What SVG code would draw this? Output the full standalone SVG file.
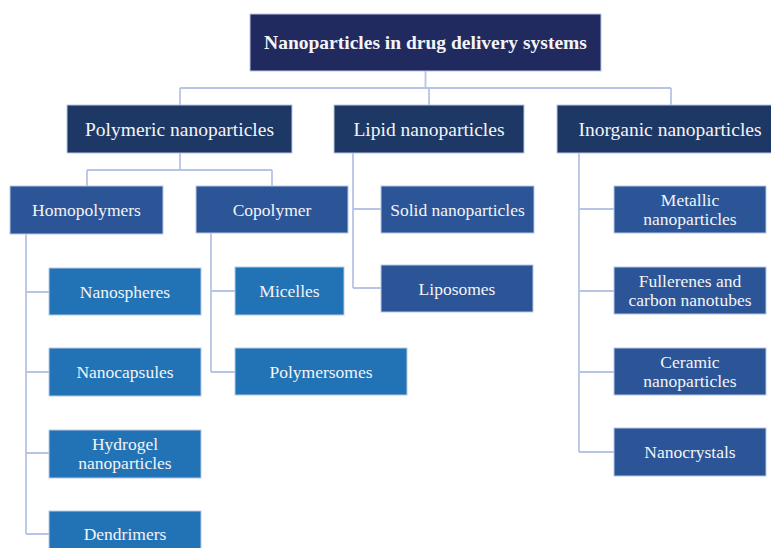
<svg xmlns="http://www.w3.org/2000/svg" width="771" height="548" viewBox="0 0 771 548">
  <style>
    .box { stroke: #b9c7e8; stroke-width: 1; }
    .root { fill: #212a5e; }
    .l1 { fill: #1e3865; }
    .l2 { fill: #2b5597; }
    .l3 { fill: #2273b5; }
    text { font-family: "Liberation Serif", "Times New Roman", serif; fill: #f4f4f6; text-anchor: middle; }
    .t0 { font-size: 19.5px; font-weight: bold; }
    .t1 { font-size: 19.5px; }
    .t2 { font-size: 17.5px; }
    .wire { fill: none; stroke: #b6c4e6; stroke-width: 1.8; }
  </style>
  <rect width="771" height="548" fill="#ffffff"/>

  <g id="connectors">
    <!-- root to categories -->
    <path class="wire" d="M425.5 71 V88 M180 88 H671 M180 88 V105 M429 88 V105 M671 88 V105"/>
    <!-- polymeric split -->
    <path class="wire" d="M180 153 V170 M87 170 H272 M87 170 V186 M272 170 V186"/>
    <!-- homopolymers list -->
    <path class="wire" d="M26 234 V534 M26 292 H49 M26 372 H49 M26 453 H49 M26 534 H49"/>
    <!-- copolymer list -->
    <path class="wire" d="M211 233 V372 M211 291 H235 M211 372 H235"/>
    <!-- lipid list -->
    <path class="wire" d="M353 153 V288 M353 209 H381 M353 288 H381"/>
    <!-- inorganic list -->
    <path class="wire" d="M579 153 V452 M579 209 H614 M579 291 H614 M579 372 H614 M579 452 H614"/>
  </g>

  <g id="root">
    <rect class="box root" x="250" y="14" width="351" height="57"/>
    <text class="t0" x="425.5" y="49">Nanoparticles in drug delivery systems</text>
  </g>

  <g id="polymeric">
    <rect class="box l1" x="67" y="105" width="225" height="48"/>
    <text class="t1" x="179.5" y="136">Polymeric nanoparticles</text>
  </g>
  <g id="lipid">
    <rect class="box l1" x="334" y="105" width="190" height="48"/>
    <text class="t1" x="429" y="136">Lipid nanoparticles</text>
  </g>
  <g id="inorganic">
    <rect class="box l1" x="557" y="105" width="226" height="48"/>
    <text class="t1" x="670" y="136">Inorganic nanoparticles</text>
  </g>

  <g id="homopolymers">
    <rect class="box l2" x="10" y="186" width="153" height="48"/>
    <text class="t2" x="86.5" y="216">Homopolymers</text>
  </g>
  <g id="copolymer">
    <rect class="box l2" x="196" y="186" width="152" height="47"/>
    <text class="t2" x="272" y="215.5">Copolymer</text>
  </g>

  <g id="nanospheres">
    <rect class="box l3" x="49" y="268" width="152" height="47"/>
    <text class="t2" x="125" y="297.5">Nanospheres</text>
  </g>
  <g id="nanocapsules">
    <rect class="box l3" x="49" y="348" width="152" height="48"/>
    <text class="t2" x="125" y="378">Nanocapsules</text>
  </g>
  <g id="hydrogel">
    <rect class="box l3" x="49" y="430" width="152" height="48"/>
    <text class="t2" x="125" y="450">Hydrogel</text>
    <text class="t2" x="125" y="469">nanoparticles</text>
  </g>
  <g id="dendrimers">
    <rect class="box l3" x="49" y="511" width="152" height="48"/>
    <text class="t2" x="125" y="540">Dendrimers</text>
  </g>

  <g id="micelles">
    <rect class="box l3" x="235" y="267" width="109" height="48"/>
    <text class="t2" x="289.5" y="297">Micelles</text>
  </g>
  <g id="polymersomes">
    <rect class="box l3" x="235" y="348" width="172" height="47"/>
    <text class="t2" x="321" y="377.5">Polymersomes</text>
  </g>

  <g id="solid">
    <rect class="box l2" x="381" y="186" width="153" height="47"/>
    <text class="t2" x="457.5" y="215.5">Solid nanoparticles</text>
  </g>
  <g id="liposomes">
    <rect class="box l2" x="381" y="265" width="152" height="47"/>
    <text class="t2" x="457" y="294.5">Liposomes</text>
  </g>

  <g id="metallic">
    <rect class="box l2" x="614" y="186" width="152" height="47"/>
    <text class="t2" x="690" y="206">Metallic</text>
    <text class="t2" x="690" y="225">nanoparticles</text>
  </g>
  <g id="fullerenes">
    <rect class="box l2" x="614" y="267" width="152" height="47"/>
    <text class="t2" x="690" y="287">Fullerenes and</text>
    <text class="t2" x="690" y="306">carbon nanotubes</text>
  </g>
  <g id="ceramic">
    <rect class="box l2" x="614" y="348" width="152" height="47"/>
    <text class="t2" x="690" y="368">Ceramic</text>
    <text class="t2" x="690" y="387">nanoparticles</text>
  </g>
  <g id="nanocrystals">
    <rect class="box l2" x="614" y="428" width="152" height="48"/>
    <text class="t2" x="690" y="458">Nanocrystals</text>
  </g>
</svg>
